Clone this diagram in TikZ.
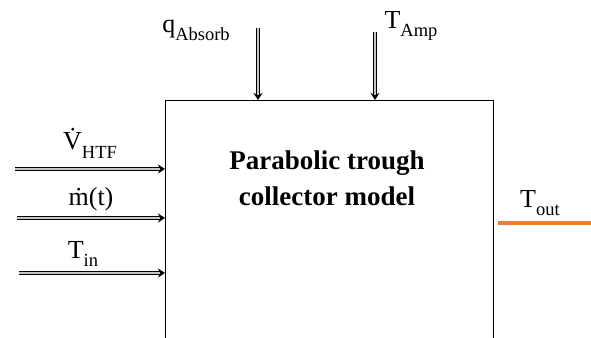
\documentclass[tikz,border=0pt]{standalone}
\usepackage{fontspec}
\setmainfont{Liberation Serif}
\usetikzlibrary{arrows.meta}
\definecolor{cam}{RGB}{237,125,49}
\newcommand{\sbs}[1]{\raisebox{-0.32em}{\fontsize{18.5}{19}\selectfont #1}}
\tikzset{
	inarrow/.style={double=gray!45, double distance=2.2pt, line width=1.1pt, -{Stealth[length=7pt,width=9pt]}},
	lbl/.style={font=\fontsize{26}{28}\selectfont, inner sep=0pt}
}
\begin{document}
\begin{tikzpicture}[x=1pt, y=-1pt, line join=round, >=stealth]
	\useasboundingbox (0,0) rectangle (591,337);
	\clip (0,0) rectangle (591,337);
	% khối mô hình
	\node[draw, line width=1.3pt, minimum width=328pt, minimum height=260pt, anchor=north west, inner sep=0pt] (ptc) at (165,100) {};
	\node[font=\bfseries\fontsize{27}{36}\selectfont, align=center] (title) at (327,178) {Parabolic trough\\collector model};
	% đầu vào bên trái
	\coordinate (v0) at (15,169); \coordinate (m0) at (17,218); \coordinate (t0) at (19,273);
	\draw[inarrow] (v0) -- (v0 -| ptc.west);
	\draw[inarrow] (m0) -- (m0 -| ptc.west);
	\draw[inarrow] (t0) -- (t0 -| ptc.west);
	\node[lbl] (lv) at (90,143) {V^^^^0307\sbs{HTF}};
	\node[lbl] (lm) at (91,199) {^^^^1e41(t)};
	\node[lbl] (lt) at (83,254) {T\sbs{in}};
	% đầu vào phía trên
	\coordinate (q0) at (258,28); \coordinate (a0) at (375,32);
	\draw[inarrow] (q0) -- (q0 |- ptc.north);
	\draw[inarrow] (a0) -- (a0 |- ptc.north);
	\node[lbl] (lq) at (196,30) {q\sbs{Absorb}};
	\node[lbl] (la) at (411,26) {T\sbs{Amp}};
	% đầu ra
	\coordinate (o1) at (591,223);
	\draw[cam, line width=4.5pt] (ptc.east |- o1) ++(4,0) -- (o1);
	\node[lbl] (lo) at (540,203) {T\sbs{out}};
\end{tikzpicture}
\end{document}
